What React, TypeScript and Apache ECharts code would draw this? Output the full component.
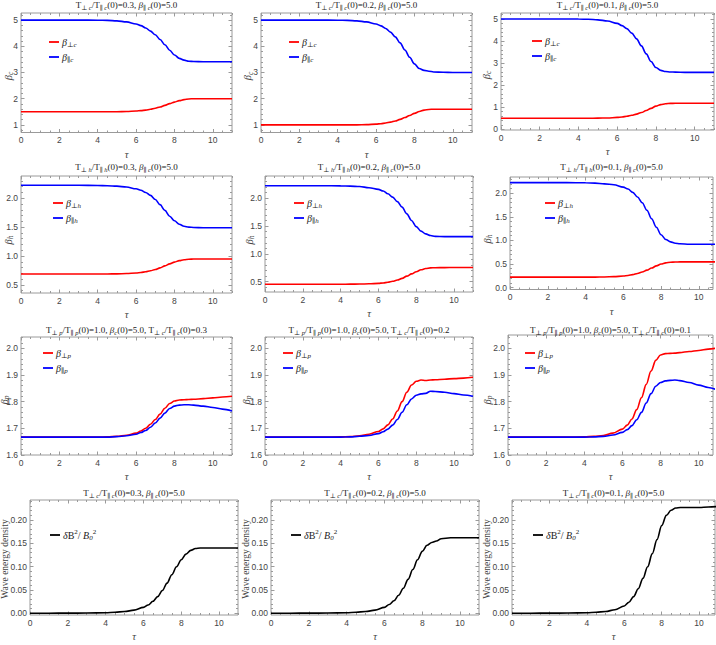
import React, { useEffect, useRef } from "react";
import * as echarts from "echarts";

// ---------- data ----------
const TAU = [0, 1, 2, 3, 4, 4.5, 5, 5.5, 6, 6.25, 6.5, 6.75, 7, 7.25, 7.5, 7.75, 8, 8.25, 8.5, 8.75, 9, 9.5, 10, 10.5, 11];

// Row 1: beta_c
const bPerpC_03 = [1.5, 1.5, 1.5, 1.5, 1.5, 1.5, 1.502, 1.51, 1.53, 1.545, 1.565, 1.595, 1.635, 1.685, 1.745, 1.81, 1.87, 1.925, 1.965, 1.99, 2.0, 2.0, 2.0, 2.0, 2.0];
const bParC_03 = [5.0, 5.0, 5.0, 5.0, 4.995, 4.99, 4.97, 4.93, 4.85, 4.79, 4.7, 4.58, 4.44, 4.26, 4.06, 3.85, 3.67, 3.54, 3.47, 3.43, 3.42, 3.41, 3.41, 3.41, 3.41];
const bPerpC_02 = [1.0, 1.0, 1.0, 1.0, 1.0, 1.0, 1.002, 1.01, 1.03, 1.045, 1.07, 1.105, 1.15, 1.21, 1.28, 1.36, 1.44, 1.51, 1.565, 1.59, 1.6, 1.6, 1.6, 1.6, 1.6];
const bParC_02 = [5.0, 5.0, 5.0, 5.0, 4.995, 4.99, 4.97, 4.93, 4.85, 4.78, 4.68, 4.54, 4.36, 4.13, 3.86, 3.58, 3.33, 3.15, 3.08, 3.05, 3.02, 3.01, 3.0, 3.0, 3.0];
const bPerpC_01 = [0.5, 0.5, 0.5, 0.5, 0.5, 0.502, 0.506, 0.515, 0.54, 0.56, 0.59, 0.635, 0.69, 0.76, 0.85, 0.95, 1.05, 1.12, 1.16, 1.175, 1.18, 1.18, 1.18, 1.18, 1.18];
const bParC_01 = [5.0, 5.0, 5.0, 5.0, 4.995, 4.985, 4.96, 4.91, 4.8, 4.7, 4.56, 4.36, 4.1, 3.78, 3.42, 3.07, 2.8, 2.67, 2.62, 2.6, 2.59, 2.58, 2.58, 2.58, 2.58];

// Row 2: beta_h
const bPerpH_03 = [0.69, 0.69, 0.69, 0.69, 0.69, 0.69, 0.692, 0.697, 0.707, 0.716, 0.728, 0.745, 0.767, 0.795, 0.83, 0.865, 0.895, 0.92, 0.937, 0.945, 0.948, 0.95, 0.95, 0.95, 0.95];
const bParH_03 = [2.225, 2.225, 2.225, 2.225, 2.222, 2.218, 2.21, 2.195, 2.165, 2.14, 2.1, 2.05, 1.98, 1.89, 1.79, 1.69, 1.61, 1.55, 1.515, 1.5, 1.495, 1.49, 1.49, 1.49, 1.49];
const bPerpH_02 = [0.455, 0.455, 0.455, 0.455, 0.455, 0.456, 0.458, 0.462, 0.47, 0.478, 0.49, 0.507, 0.53, 0.56, 0.6, 0.64, 0.68, 0.715, 0.737, 0.748, 0.752, 0.754, 0.755, 0.755, 0.756];
const bParH_02 = [2.225, 2.225, 2.225, 2.225, 2.222, 2.218, 2.21, 2.19, 2.16, 2.13, 2.08, 2.02, 1.94, 1.84, 1.72, 1.6, 1.49, 1.41, 1.36, 1.33, 1.315, 1.31, 1.31, 1.31, 1.31];
const bPerpH_01 = [0.222, 0.222, 0.222, 0.222, 0.222, 0.223, 0.226, 0.232, 0.245, 0.257, 0.275, 0.3, 0.33, 0.37, 0.415, 0.46, 0.5, 0.525, 0.538, 0.543, 0.545, 0.545, 0.545, 0.545, 0.545];
const bParH_01 = [2.225, 2.225, 2.225, 2.225, 2.222, 2.215, 2.2, 2.18, 2.13, 2.09, 2.02, 1.92, 1.8, 1.64, 1.46, 1.28, 1.12, 1.02, 0.97, 0.94, 0.93, 0.92, 0.92, 0.92, 0.92];

// Row 3: beta_p
const bPerpP_03 = [1.667, 1.667, 1.667, 1.667, 1.667, 1.668, 1.67, 1.674, 1.682, 1.69, 1.7, 1.715, 1.733, 1.753, 1.775, 1.793, 1.802, 1.806, 1.807, 1.808, 1.809, 1.811, 1.814, 1.817, 1.82];
const bParP_03 = [1.667, 1.667, 1.667, 1.667, 1.667, 1.667, 1.669, 1.672, 1.678, 1.684, 1.692, 1.704, 1.72, 1.738, 1.757, 1.774, 1.783, 1.787, 1.788, 1.788, 1.787, 1.783, 1.778, 1.772, 1.765];
const bPerpP_02 = [1.667, 1.667, 1.667, 1.667, 1.668, 1.669, 1.672, 1.678, 1.688, 1.698, 1.713, 1.735, 1.765, 1.8, 1.835, 1.862, 1.876, 1.881, 1.879, 1.881, 1.882, 1.884, 1.886, 1.888, 1.891];
const bParP_02 = [1.667, 1.667, 1.667, 1.667, 1.667, 1.668, 1.67, 1.673, 1.68, 1.687, 1.697, 1.712, 1.733, 1.76, 1.788, 1.81, 1.824, 1.829, 1.831, 1.839, 1.838, 1.835, 1.83, 1.825, 1.82];
const bPerpP_01 = [1.667, 1.667, 1.667, 1.667, 1.668, 1.67, 1.673, 1.682, 1.697, 1.712, 1.735, 1.77, 1.815, 1.865, 1.915, 1.955, 1.975, 1.98, 1.981, 1.982, 1.984, 1.988, 1.992, 1.997, 2.002];
const bParP_01 = [1.667, 1.667, 1.667, 1.667, 1.667, 1.668, 1.67, 1.675, 1.685, 1.695, 1.71, 1.732, 1.76, 1.795, 1.83, 1.858, 1.872, 1.878, 1.88, 1.881, 1.879, 1.872, 1.862, 1.853, 1.843];

// Row 4: wave energy density
const wave_03 = [0.0005, 0.0005, 0.0006, 0.0008, 0.0015, 0.0025, 0.004, 0.007, 0.013, 0.018, 0.026, 0.036, 0.049, 0.065, 0.083, 0.1, 0.115, 0.127, 0.135, 0.139, 0.14, 0.14, 0.14, 0.14, 0.14];
const wave_02 = [0.0005, 0.0005, 0.0006, 0.0008, 0.0015, 0.0025, 0.004, 0.007, 0.013, 0.019, 0.027, 0.039, 0.054, 0.073, 0.094, 0.115, 0.133, 0.146, 0.152, 0.155, 0.16, 0.162, 0.162, 0.162, 0.162];
const wave_01 = [0.0005, 0.0005, 0.0006, 0.0008, 0.0015, 0.0025, 0.004, 0.008, 0.016, 0.024, 0.036, 0.053, 0.075, 0.1, 0.128, 0.158, 0.188, 0.21, 0.221, 0.226, 0.227, 0.227, 0.227, 0.228, 0.229];

// tick labels
const X_MAJOR = [0, 2, 4, 6, 8, 10];
const Y_MAJOR_R1 = [1, 2, 3, 4, 5];
const Y_MAJOR_R1_0 = [0, 1, 2, 3, 4, 5];
const Y_MAJOR_R2 = [0.5, 1.0, 1.5, 2.0];
const Y_MAJOR_R2_0 = [0.0, 0.5, 1.0, 1.5, 2.0];
const Y_MAJOR_R3 = [1.6, 1.7, 1.8, 1.9, 2.0];
const Y_MAJOR_R4 = [0.0, 0.05, 0.1, 0.15, 0.2];

// ---------- styles ----------
const SERIF = "'Liberation Serif','DejaVu Serif',serif";
const SANS = "'Liberation Sans','DejaVu Sans',sans-serif";
const FRAME = "#9a9a9a";
const LABEL = "#444";
const RED = "#ff0000";
const BLUE = "#0000ff";
const BLACK = "#000000";

const tok = (size: number, lh: number, italic: boolean, va: string, color = "#222") => ({
  fontFamily: SERIF,
  fontSize: size,
  fontStyle: italic ? "italic" : "normal",
  lineHeight: lh,
  verticalAlign: va,
  color,
  fill: color,
});

const RICH: any = {
  t: tok(9, 12, false, "middle"),
  i: tok(9, 12, true, "middle"),
  s: tok(6.5, 6, true, "bottom"),
  L: tok(10, 13, false, "middle"),
  Li: tok(10, 13, true, "middle"),
  Ls: tok(7, 6.5, true, "bottom"),
  Lu: tok(7, 6.5, false, "top"),
  N: tok(10.5, 13, true, "middle", "#444"),
  Ns: tok(7.5, 6.5, true, "bottom", "#444"),
  W: tok(9.5, 12, false, "middle", "#444"),
};

const ttl = (sp: string, r: string) =>
  `{t|T}{s|⊥ ${sp}}{t|/T}{s|∥ ${sp}}{t|(0)=${r}, }{i|β}{s|∥ c}{t|(0)=5.0}`;
const ttlP = (r: string) =>
  `{t|T}{s|⊥ p}{t|/T}{s|∥ p}{t|(0)=1.0, }{i|β}{s|c}{t|(0)=5.0, T}{s|⊥ c}{t|/T}{s|∥ c}{t|(0)=${r}}`;

const lg = (a: string) => `{Li|β}{Ls|${a}}`;
const WAVE_LG = "{Li|δ}{L|B}{Lu|2}{L|/ }{Li|B}{Ls|0}{Lu|2}";
const WAVE_NAME = "{W|Wave energy density}";

// panels: [title, yName, series list [values, color, legend], yMin, yMax, xMax, yMajor, yMinorStep, decimals]
const PANELS: any[] = [
  [ttl("c", "0.3"), "{N|β}{Ns|c}", [[bPerpC_03, RED, lg("⊥c")], [bParC_03, BLUE, lg("∥c")]], 0.71, 5.27, 11, Y_MAJOR_R1, 0.2, 0],
  [ttl("c", "0.2"), "{N|β}{Ns|c}", [[bPerpC_02, RED, lg("⊥c")], [bParC_02, BLUE, lg("∥c")]], 0.71, 5.27, 11, Y_MAJOR_R1, 0.2, 0],
  [ttl("c", "0.1"), "{N|β}{Ns|c}", [[bPerpC_01, RED, lg("⊥c")], [bParC_01, BLUE, lg("∥c")]], -0.03, 5.27, 11, Y_MAJOR_R1_0, 0.2, 0],
  [ttl("h", "0.3"), "{N|β}{Ns|h}", [[bPerpH_03, RED, lg("⊥h")], [bParH_03, BLUE, lg("∥h")]], 0.36, 2.386, 11, Y_MAJOR_R2, 0.1, 1],
  [ttl("h", "0.2"), "{N|β}{Ns|h}", [[bPerpH_02, RED, lg("⊥h")], [bParH_02, BLUE, lg("∥h")]], 0.315, 2.4, 11, Y_MAJOR_R2, 0.1, 1],
  [ttl("h", "0.1"), "{N|β}{Ns|h}", [[bPerpH_01, RED, lg("⊥h")], [bParH_01, BLUE, lg("∥h")]], -0.04, 2.345, 10.75, Y_MAJOR_R2_0, 0.1, 1],
  [ttlP("0.3"), "{N|β}{Ns|p}", [[bPerpP_03, RED, lg("⊥p")], [bParP_03, BLUE, lg("∥p")]], 1.6, 2.042, 11, Y_MAJOR_R3, 0.02, 1],
  [ttlP("0.2"), "{N|β}{Ns|p}", [[bPerpP_02, RED, lg("⊥p")], [bParP_02, BLUE, lg("∥p")]], 1.6, 2.042, 11, Y_MAJOR_R3, 0.02, 1],
  [ttlP("0.1"), "{N|β}{Ns|p}", [[bPerpP_01, RED, lg("⊥p")], [bParP_01, BLUE, lg("∥p")]], 1.6, 2.05, 10.75, Y_MAJOR_R3, 0.02, 1],
  [ttl("c", "0.3"), WAVE_NAME, [[wave_03, BLACK, WAVE_LG]], -0.0034, 0.243, 11, Y_MAJOR_R4, 0.01, 2],
  [ttl("c", "0.2"), WAVE_NAME, [[wave_02, BLACK, WAVE_LG]], -0.0034, 0.243, 11, Y_MAJOR_R4, 0.01, 2],
  [ttl("c", "0.1"), WAVE_NAME, [[wave_01, BLACK, WAVE_LG]], -0.0034, 0.243, 10.85, Y_MAJOR_R4, 0.01, 2],
];

// layout (page px): frame [left, top, right, bottom]
const FRAMES = [
  [21, 13, 232, 132.5], [261, 13, 472, 132.5], [501, 13, 714, 130],
  [21, 176, 232, 293], [265, 176, 473, 292], [510, 177, 713, 289.5],
  [21, 337, 232, 455], [265, 337, 473, 455], [508, 335, 713, 455],
  [30, 500, 238, 615], [271, 500, 479, 615], [512, 500, 715, 615],
];
const TITLE_Y = [5, 5, 5, 167, 167, 167, 330, 330, 330, 493, 493, 493];
const LEGEND_POS = [
  [49, 42], [289, 42], [532, 41],
  [53, 203], [294, 203], [545, 203],
  [43, 353], [283, 353], [525, 353],
  [50, 535], [291, 535], [533, 535],
];
const Y_NAME_POS = [
  [8, 76], [247.5, 76], [486, 75],
  [8, 240], [249, 240], [487, 239],
  [4, 400], [246, 400], [487, 400],
  [5, 559], [246, 559], [487, 559],
];

function minorVals(lo: number, hi: number, step: number, majors: number[]) {
  const out: number[] = [];
  const start = Math.ceil(lo / step - 1e-9);
  for (let k = start; k * step <= hi + 1e-9; k++) {
    const v = +(k * step).toFixed(6);
    if (!majors.some((m) => Math.abs(m - v) < 1e-9)) out.push(v);
  }
  return out;
}

function buildOption() {
  const grid: any[] = [];
  const xAxis: any[] = [];
  const yAxis: any[] = [];
  const series: any[] = [];
  const title: any[] = [];
  const elements: any[] = [];

  PANELS.forEach((p, i) => {
    const [tText, yName, ser, yMin, yMax, xMax, yMajor, yStep, dec] = p;
    const [l, t, r, b] = FRAMES[i];
    grid.push({
      left: l, top: t, width: r - l, height: b - t,
      show: true, borderColor: FRAME, borderWidth: 1, backgroundColor: "transparent",
      containLabel: false, outerBoundsMode: "none",
    });
    const xMinor = minorVals(0, xMax, 0.5, X_MAJOR);
    const yMinor = minorVals(yMin, yMax, yStep, yMajor);
    const baseAxis = (gi: number, min: number, max: number, pos: string, ticks: number[], len: number) => ({
      type: "value", gridIndex: gi, min, max, position: pos,
      axisLine: { show: false, onZero: false },
      splitLine: { show: false },
      axisTick: { show: true, inside: true, length: len, customValues: ticks, lineStyle: { color: FRAME, width: 1 } },
      axisLabel: { show: false },
    });
    const xMain: any = baseAxis(i, 0, xMax, "bottom", X_MAJOR, 3.5);
    xMain.axisLabel = {
      show: true, customValues: X_MAJOR, fontSize: 8.5, fontFamily: SANS, color: LABEL, margin: 3,
      formatter: (v: number) => String(v),
    };
    xMain.name = "τ";
    xMain.nameLocation = "middle";
    xMain.nameGap = 16;
    xMain.nameMoveOverlap = false;
    xMain.nameTextStyle = { fontFamily: SERIF, fontStyle: "italic", fontSize: 10.5, color: "#444" };
    xAxis.push(xMain, baseAxis(i, 0, xMax, "bottom", xMinor, 2), baseAxis(i, 0, xMax, "top", X_MAJOR, 3.5), baseAxis(i, 0, xMax, "top", xMinor, 2));

    const yMain: any = baseAxis(i, yMin, yMax, "left", yMajor, 3.5);
    yMain.axisLabel = {
      show: true, customValues: yMajor, fontSize: 8.5, fontFamily: SANS, color: LABEL, margin: 3,
      formatter: (v: number) => v.toFixed(dec),
    };
    yAxis.push(yMain, baseAxis(i, yMin, yMax, "left", yMinor, 2), baseAxis(i, yMin, yMax, "right", yMajor, 3.5), baseAxis(i, yMin, yMax, "right", yMinor, 2));

    // y axis name, drawn rotated beside the frame
    const [nx, ny] = Y_NAME_POS[i];
    elements.push({
      type: "text", x: nx, y: ny, rotation: Math.PI / 2,
      style: { text: yName, rich: RICH, align: "center", verticalAlign: "middle", fill: "#444" },
    });

    title.push({
      text: tText, left: (l + r) / 2, top: TITLE_Y[i] - 6, textAlign: "center", padding: 0,
      textStyle: { fontFamily: SERIF, fontSize: 9, fontWeight: "normal", color: "#222", rich: RICH },
    });

    const [lx, ly] = LEGEND_POS[i];
    ser.forEach((s: any, k: number) => {
      const [vals, color, label] = s;
      series.push({
        type: "line", name: `p${i}s${k}`, xAxisIndex: 4 * i, yAxisIndex: 4 * i,
        data: TAU.map((x, j) => [x, vals[j]]),
        showSymbol: false, symbol: "none", smooth: 0.35, smoothMonotone: "x",
        lineStyle: { color, width: 1.6 }, itemStyle: { color }, clip: true,
      });
      const cy = ly + k * 15;
      elements.push({ type: "line", shape: { x1: lx, y1: cy, x2: lx + 10, y2: cy }, style: { stroke: color, lineWidth: 1.8 } });
      elements.push({ type: "text", x: lx + 13, y: cy, style: { text: label, rich: RICH, verticalAlign: "middle", align: "left", fill: "#222" } });
    });
  });

  return {
    animation: false,
    backgroundColor: "#ffffff",
    grid, xAxis, yAxis, series, title,
    graphic: { elements },
  };
}

export default function App() {
  const ref = useRef<HTMLDivElement>(null);
  useEffect(() => {
    const chart = echarts.init(ref.current as HTMLDivElement, null, { renderer: "svg" });
    chart.setOption(buildOption() as any);
    return () => chart.dispose();
  }, []);
  return <div ref={ref} style={{ position: "absolute", left: 0, top: 0, width: 716, height: 645, background: "#fff" }} />;
}
